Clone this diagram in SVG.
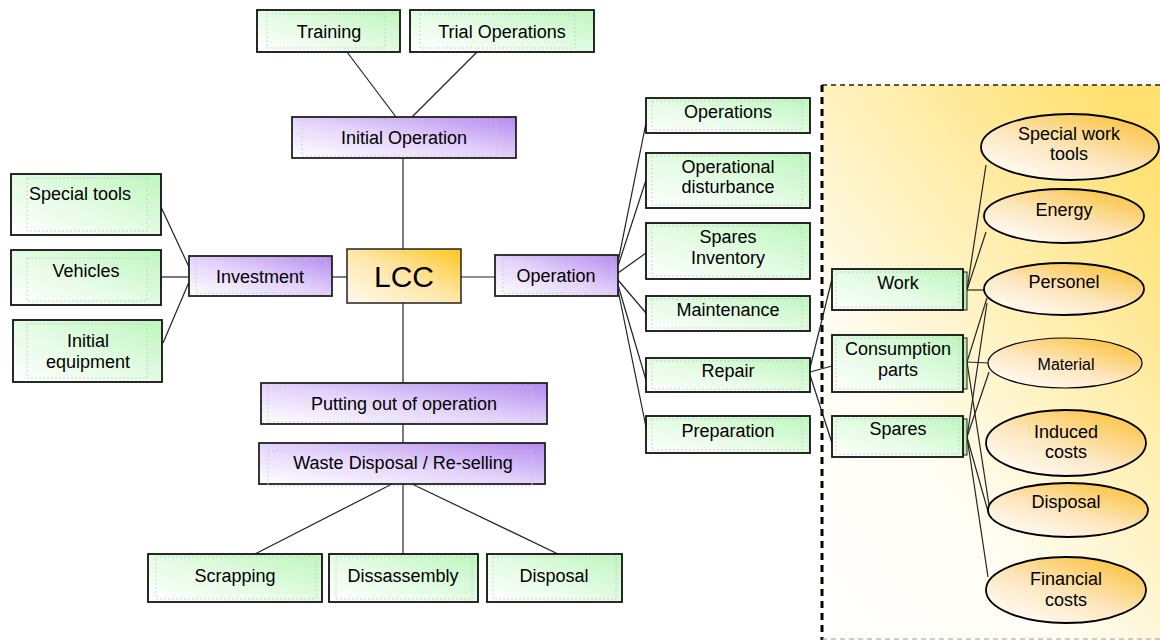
<svg xmlns="http://www.w3.org/2000/svg" width="1160" height="640" viewBox="0 0 1160 640">
<defs>
<linearGradient id="gGreen" x1="0" y1="1" x2="1" y2="0">
<stop offset="0" stop-color="#ffffff"/><stop offset="0.45" stop-color="#e6fce6"/><stop offset="1" stop-color="#bdf6bd"/>
</linearGradient>
<linearGradient id="gPurple" x1="0" y1="1" x2="1" y2="0">
<stop offset="0" stop-color="#ffffff"/><stop offset="0.5" stop-color="#e3d2fb"/><stop offset="1" stop-color="#b48aef"/>
</linearGradient>
<linearGradient id="gLcc" x1="0" y1="1" x2="1" y2="0">
<stop offset="0" stop-color="#fffaf0"/><stop offset="0.5" stop-color="#ffe7a8"/><stop offset="1" stop-color="#ffc61e"/>
</linearGradient>
<linearGradient id="gEll" x1="0.1" y1="1" x2="0.9" y2="0">
<stop offset="0" stop-color="#ffffff"/><stop offset="0.45" stop-color="#fde7c0"/><stop offset="1" stop-color="#fbbf32"/>
</linearGradient>
<linearGradient id="gPanel" x1="0" y1="1" x2="0.8" y2="0">
<stop offset="0" stop-color="#ffffff"/><stop offset="0.35" stop-color="#fffdf4"/><stop offset="0.6" stop-color="#fff2c0"/><stop offset="1" stop-color="#ffe070"/>
</linearGradient>
</defs>
<style>
.g{fill:url(#gGreen);stroke:#111;stroke-width:1.8}
.p{fill:url(#gPurple);stroke:#222;stroke-width:1.8}
.l{fill:url(#gLcc);stroke:#222;stroke-width:1.5}
.e{fill:url(#gEll);stroke:#000;stroke-width:1.8}
.in{fill:none;stroke:#c8c8c8;stroke-width:0.8;stroke-dasharray:2 2}
.sh{fill:#b8f0a8;stroke:#222;stroke-width:1}
.c line{stroke:#222;stroke-width:1.2;fill:none}
text{font-family:"Liberation Sans",Arial,sans-serif;font-size:18px;fill:#000;text-anchor:middle}
.big{font-size:30px}
</style>

<g id="panel">
<rect x="822" y="85" width="345" height="560" fill="url(#gPanel)"/>
<line x1="822" y1="85" x2="1160" y2="85" stroke="#222" stroke-width="1.5" stroke-dasharray="5 4"/>
<line x1="822" y1="85" x2="822" y2="640" stroke="#000" stroke-width="3" stroke-dasharray="7 5"/>
<line x1="822" y1="639" x2="1160" y2="639" stroke="#999" stroke-width="1.2" stroke-dasharray="5 4"/>
</g>

<g class="c" id="connectors">
<line x1="347" y1="52" x2="396" y2="117"/>
<line x1="477" y1="52" x2="412" y2="117"/>
<line x1="403" y1="158" x2="403" y2="249"/>
<line x1="161" y1="207" x2="189" y2="267"/>
<line x1="161" y1="277" x2="189" y2="277"/>
<line x1="163" y1="343" x2="189" y2="282"/>
<line x1="332" y1="277" x2="347" y2="277"/>
<line x1="461" y1="277" x2="495" y2="277"/>
<line x1="618" y1="262" x2="646" y2="123"/>
<line x1="618" y1="266" x2="646" y2="180"/>
<line x1="618" y1="273" x2="646" y2="253"/>
<line x1="618" y1="280" x2="646" y2="313"/>
<line x1="618" y1="285" x2="646" y2="380"/>
<line x1="618" y1="290" x2="646" y2="427"/>
<line x1="810" y1="368" x2="832" y2="279"/>
<line x1="810" y1="372" x2="832" y2="366"/>
<line x1="810" y1="375" x2="832" y2="443"/>
<line x1="967" y1="290" x2="986" y2="165"/>
<line x1="967" y1="290" x2="986" y2="232"/>
<line x1="967" y1="290" x2="986" y2="290"/>
<line x1="967" y1="362" x2="987" y2="298"/>
<line x1="967" y1="362" x2="989" y2="363"/>
<line x1="967" y1="362" x2="989" y2="505"/>
<line x1="967" y1="437" x2="987" y2="303"/>
<line x1="967" y1="437" x2="989" y2="372"/>
<line x1="967" y1="437" x2="989" y2="515"/>
<line x1="967" y1="437" x2="988" y2="577"/>
<line x1="403" y1="303" x2="403" y2="383"/>
<line x1="403" y1="424" x2="403" y2="443"/>
<line x1="392" y1="484" x2="255" y2="554"/>
<line x1="403" y1="484" x2="403" y2="554"/>
<line x1="412" y1="484" x2="558" y2="554"/>
</g>

<g id="training"><rect class="g" x="257" y="10" width="143" height="42"/><rect class="in" x="267" y="14" width="118" height="34"/><text x="329" y="38">Training</text></g>
<g id="trial-operations"><rect class="g" x="410" y="10" width="184" height="42"/><rect class="in" x="420" y="14" width="155" height="34"/><text x="502" y="38">Trial Operations</text></g>
<g id="initial-operation"><rect class="p" x="292" y="117" width="224" height="41"/><rect class="in" x="302" y="120" width="195" height="36"/><text x="404" y="144">Initial Operation</text></g>

<g id="special-tools"><rect class="g" x="11" y="174" width="150" height="61"/><rect class="in" x="27" y="178" width="120" height="53"/><text x="80" y="200">Special tools</text></g>
<g id="vehicles"><rect class="g" x="11" y="250" width="150" height="55"/><rect class="in" x="27" y="258" width="120" height="43"/><text x="86" y="277">Vehicles</text></g>
<g id="initial-equipment"><rect class="g" x="13" y="320" width="149" height="62"/><rect class="in" x="27" y="324" width="120" height="54"/><text x="88" y="347">Initial</text><text x="88" y="368">equipment</text></g>
<g id="investment"><rect class="p" x="189" y="256" width="143" height="40"/><rect class="in" x="196" y="259" width="130" height="34"/><text x="260" y="283">Investment</text></g>

<g id="lcc"><rect class="l" x="347" y="249" width="114" height="54"/><text class="big" x="404" y="287">LCC</text></g>

<g id="operation"><rect class="p" x="495" y="255" width="123" height="41"/><rect class="in" x="503" y="258" width="110" height="35"/><text x="556" y="282">Operation</text></g>

<g id="operations"><rect class="g" x="646" y="98" width="164" height="35"/><rect class="in" x="652" y="101" width="150" height="29"/><text x="728" y="118">Operations</text></g>
<g id="operational-disturbance"><rect class="g" x="646" y="153" width="164" height="55"/><rect class="in" x="652" y="156" width="150" height="49"/><text x="728" y="173">Operational</text><text x="728" y="193">disturbance</text></g>
<g id="spares-inventory"><rect class="g" x="646" y="223" width="164" height="56"/><rect class="in" x="652" y="226" width="150" height="50"/><text x="728" y="243">Spares</text><text x="728" y="264">Inventory</text></g>
<g id="maintenance"><rect class="g" x="646" y="296" width="164" height="35"/><rect class="in" x="652" y="299" width="150" height="29"/><text x="728" y="316">Maintenance</text></g>
<g id="repair"><rect class="g" x="646" y="358" width="164" height="34"/><rect class="in" x="652" y="361" width="150" height="28"/><text x="728" y="377">Repair</text></g>
<g id="preparation"><rect class="g" x="646" y="416" width="164" height="37"/><rect class="in" x="652" y="419" width="150" height="31"/><text x="728" y="437">Preparation</text></g>

<g id="work"><rect class="sh" x="960" y="272" width="7" height="38"/><rect class="g" x="832" y="269" width="131" height="41"/><rect class="in" x="836" y="272" width="123" height="35"/><text x="898" y="289">Work</text></g>
<g id="consumption-parts"><rect class="sh" x="960" y="338" width="7" height="51"/><rect class="g" x="832" y="335" width="131" height="57"/><rect class="in" x="836" y="338" width="123" height="51"/><text x="898" y="355">Consumption</text><text x="898" y="376">parts</text></g>
<g id="spares"><rect class="sh" x="960" y="419" width="7" height="36"/><rect class="g" x="832" y="416" width="131" height="41"/><rect class="in" x="836" y="419" width="123" height="35"/><text x="898" y="435">Spares</text></g>

<g id="special-work-tools"><ellipse class="e" cx="1070" cy="147" rx="89" ry="33"/><text x="1069" y="140">Special work</text><text x="1069" y="160">tools</text></g>
<g id="energy"><ellipse class="e" cx="1064" cy="216" rx="80" ry="27"/><text x="1064" y="216">Energy</text></g>
<g id="personel"><ellipse class="e" cx="1064" cy="289" rx="80" ry="26"/><text x="1064" y="288">Personel</text></g>
<g id="material"><ellipse class="e" cx="1065" cy="363" rx="77" ry="25" style="stroke-width:1.2"/><text x="1066" y="370" style="font-size:16px">Material</text></g>
<g id="induced-costs"><ellipse class="e" cx="1066" cy="443" rx="80" ry="33"/><text x="1066" y="438">Induced</text><text x="1066" y="458">costs</text></g>
<g id="disposal-cost"><ellipse class="e" cx="1068" cy="510" rx="80" ry="27"/><text x="1066" y="508">Disposal</text></g>
<g id="financial-costs"><ellipse class="e" cx="1066" cy="590" rx="80" ry="33"/><text x="1066" y="585">Financial</text><text x="1066" y="606">costs</text></g>

<g id="putting-out"><rect class="p" x="261" y="383" width="286" height="41"/><rect class="in" x="268" y="387" width="264" height="35"/><text x="404" y="410">Putting out of operation</text></g>
<g id="waste-disposal"><rect class="p" x="259" y="443" width="286" height="41"/><rect class="in" x="268" y="451" width="264" height="35"/><text x="403" y="469">Waste Disposal / Re-selling</text></g>

<g id="scrapping"><rect class="g" x="148" y="554" width="174" height="48"/><rect class="in" x="156" y="557" width="160" height="42"/><text x="235" y="582">Scrapping</text></g>
<g id="dissassembly"><rect class="g" x="329" y="554" width="149" height="48"/><rect class="in" x="336" y="557" width="136" height="42"/><text x="403" y="582">Dissassembly</text></g>
<g id="disposal"><rect class="g" x="487" y="554" width="135" height="48"/><rect class="in" x="493" y="557" width="123" height="42"/><text x="554" y="582">Disposal</text></g>
</svg>
